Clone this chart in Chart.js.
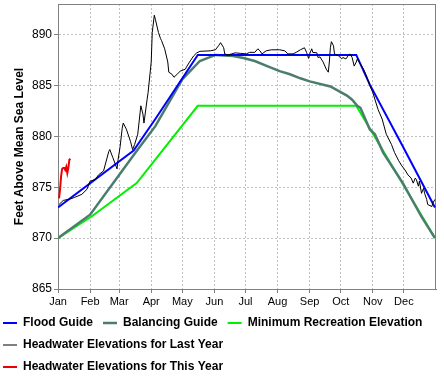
<!DOCTYPE html>
<html>
<head>
<meta charset="utf-8">
<script src="https://cdn.jsdelivr.net/npm/chart.js@4.4.0/dist/chart.umd.min.js"></script>
<style>
  body { margin: 0; background: #fff; }
  canvas { display: block; }
</style>
</head>
<body>
<canvas id="elevChart" width="444" height="377"></canvas>
<script>
/* --------------- Axis ticks  --------------------- */
const monthStarts = [0, 31, 59, 90, 120, 151, 181, 212, 243, 273, 304, 334];
const monthLabels = ["Jan", "Feb", "Mar", "Apr", "May", "Jun", "Jul", "Aug", "Sep", "Oct", "Nov", "Dec"];
const yTicks = [865, 870, 875, 880, 885, 890];

/* --------------- Guide curves (day of year, feet)  --------------------- */
const floodDays = [0, 73, 94, 135, 288, 301, 333, 364];
const floodVals = [873, 878.6, 881.7, 888, 888, 885.1, 879, 873];

const balanceDays = [0, 31, 77, 94, 120, 137, 152, 169, 179, 190, 202, 214, 224, 234, 243, 263, 279, 284, 289, 292, 301, 306, 314, 333, 351, 364];
const balanceVals = [870, 872.3, 878.7, 881.0, 885.6, 887.4, 888.0, 887.9, 887.7, 887.4, 886.9, 886.4, 886.1, 885.7, 885.4, 884.9, 884.0, 883.6, 883.0, 882.8, 880.7, 880.2, 878.4, 875.4, 872.1, 870];

const minRecDays = [0, 32, 76, 135, 288, 364];
const minRecVals = [870, 872.1, 875.4, 883, 883, 870];

/* --------------- Headwater elevations  --------------------- */
const lastYearDays = [1, 5, 12, 16, 23, 28, 31, 36, 39, 44, 49, 50, 53, 57, 58, 60, 62, 63, 66, 70, 72, 74, 77, 80, 82, 83, 86, 87, 90, 91, 93, 94, 97, 99, 100, 103, 106, 107, 110, 112, 115, 118, 123, 124, 127, 131, 134, 137, 147, 152, 155, 157, 160, 161, 164, 168, 171, 176, 182, 185, 190, 193, 195, 197, 201, 206, 214, 219, 222, 227, 230, 234, 238, 240, 242, 243, 245, 246, 250, 251, 253, 256, 259, 261, 262, 263, 264, 266, 267, 271, 274, 275, 278, 280, 282, 284, 286, 288, 289, 292, 295, 298, 301, 304, 309, 313, 317, 322, 325, 329, 332, 335, 338, 341, 343, 345, 346, 348, 349, 351, 353, 354, 356, 357, 361, 362, 364];
const lastYearVals = [873.3, 873.7, 873.85, 874.0, 874.3, 874.8, 875.6, 875.75, 876.2, 876.6, 878.5, 878.7, 877.9, 876.8, 877.7, 879.0, 880.8, 881.3, 880.7, 879.5, 878.7, 879.2, 880.2, 883.0, 882.2, 881.3, 883.6, 884.3, 887.3, 890.2, 891.9, 891.5, 890.2, 889.6, 889.4, 888.6, 887.3, 886.3, 886.1, 885.8, 886.1, 886.4, 886.6, 886.8, 887.3, 887.9, 888.2, 888.35, 888.4, 888.5, 888.9, 889.2, 888.7, 888.1, 888.0, 888.1, 888.2, 888.15, 888.1, 888.25, 888.25, 888.6, 888.4, 888.1, 888.4, 888.5, 888.5, 888.4, 888.1, 888.1, 888.25, 888.5, 888.7, 888.25, 887.65, 888.1, 888.6, 888.25, 888.2, 887.75, 887.8, 887.3, 886.6, 886.3, 887.3, 888.7, 889.3, 888.9, 888.1, 887.9, 887.6, 887.75, 887.6, 887.9, 888.1, 887.75, 886.9, 887.3, 887.6, 887.1, 886.6, 885.9, 885.0, 884.3, 882.65, 881.7, 880.2, 879.2, 878.4, 877.6, 877.1, 876.7, 876.2, 875.9, 875.4, 875.9, 875.75, 875.1, 875.6, 874.4, 874.9, 874.4, 873.8, 873.3, 873.1, 873.45, 873.8];

const thisYearDays = [1, 2, 3, 4, 5, 6, 7, 8, 9, 10, 11, 12];
const thisYearVals = [873.9, 874.8, 876.1, 876.8, 876.9, 876.9, 876.7, 877.0, 876.4, 876.9, 877.7, 877.8];

/* --------------- Helpers  --------------------- */
const toPoints = (days, vals) => days.map((d, i) => ({ x: d, y: vals[i] }));

function line(label, days, vals, color, width, order) {
    return {
        label: label,
        data: toPoints(days, vals),
        borderColor: color,
        backgroundColor: color,
        borderWidth: width,
        pointRadius: 0,
        tension: 0,
        fill: false,
        order: order
    };
}

// grey box round the plot area
const plotFrame = {
    id: "plotFrame",
    beforeDatasetsDraw(chart) {
        const { ctx, chartArea: a } = chart;
        ctx.save();
        ctx.strokeStyle = "#808080";
        ctx.lineWidth = 1;
        ctx.strokeRect(a.left + 0.5, a.top + 0.5, a.right - a.left - 1, a.bottom - a.top);
        ctx.restore();
    }
};

const gridOpts = { color: "#c0c0c0", tickColor: "#808080", tickLength: 4, tickBorderDash: [] };
const borderOpts = { color: "#808080", dash: [2, 2] };
const fontFamily = "'Liberation Sans', Arial, sans-serif";

/* --------------- Chart  --------------------- */
let elevChart = new Chart(document.getElementById("elevChart"), {
    type: "line",
    plugins: [plotFrame],
    data: {
        datasets: [
            line("Flood Guide", floodDays, floodVals, "#0000ff", 2, 2),
            line("Balancing Guide", balanceDays, balanceVals, "#4b7d6f", 2.5, 3),
            line("Minimum Recreation Elevation", minRecDays, minRecVals, "#00f000", 2, 4),
            line("Headwater Elevations for Last Year", lastYearDays, lastYearVals, "#000000", 1, 1),
            line("Headwater Elevations for This Year", thisYearDays, thisYearVals, "#ee0000", 2, 0)
        ]
    },
    options: {
        responsive: false,
        animation: false,
        layout: { padding: { left: -7, right: 8, top: 4, bottom: -6 } },
        font: { family: fontFamily },
        plugins: {
            tooltip: { enabled: false },
            legend: {
                position: "bottom",
                align: "start",
                labels: {
                    usePointStyle: true,
                    pointStyle: "line",
                    pointStyleWidth: 14,
                    padding: 10,
                    color: "#000",
                    font: { family: fontFamily, size: 12, weight: "bold" },
                    sort: (a, b) => a.datasetIndex - b.datasetIndex
                }
            }
        },
        scales: {
            x: {
                type: "linear",
                min: 0,
                max: 365,
                afterBuildTicks: (s) => { s.ticks = monthStarts.map(v => ({ value: v })); },
                afterFit: (s) => { s.height = 18; s.paddingLeft = 0; s.paddingRight = 0; },
                ticks: {
                    autoSkip: false,
                    maxRotation: 0,
                    padding: 2,
                    color: "#000",
                    font: { family: fontFamily, size: 11 },
                    callback: (v, i) => monthLabels[i]
                },
                grid: gridOpts,
                border: borderOpts
            },
            y: {
                min: 865,
                max: 893,
                afterBuildTicks: (s) => { s.ticks = yTicks.map(v => ({ value: v })); },
                afterFit: (s) => { s.width = 65; s.paddingTop = 0; s.paddingBottom = 0; },
                ticks: {
                    padding: 2,
                    color: "#000",
                    font: { family: fontFamily, size: 12 }
                },
                title: {
                    display: true,
                    text: "Feet Above Mean Sea Level",
                    color: "#000",
                    font: { family: fontFamily, size: 12, weight: "bold" },
                    padding: { top: 19, bottom: 0 }
                },
                grid: gridOpts,
                border: borderOpts
            }
        }
    }
});
</script>
</body>
</html>
